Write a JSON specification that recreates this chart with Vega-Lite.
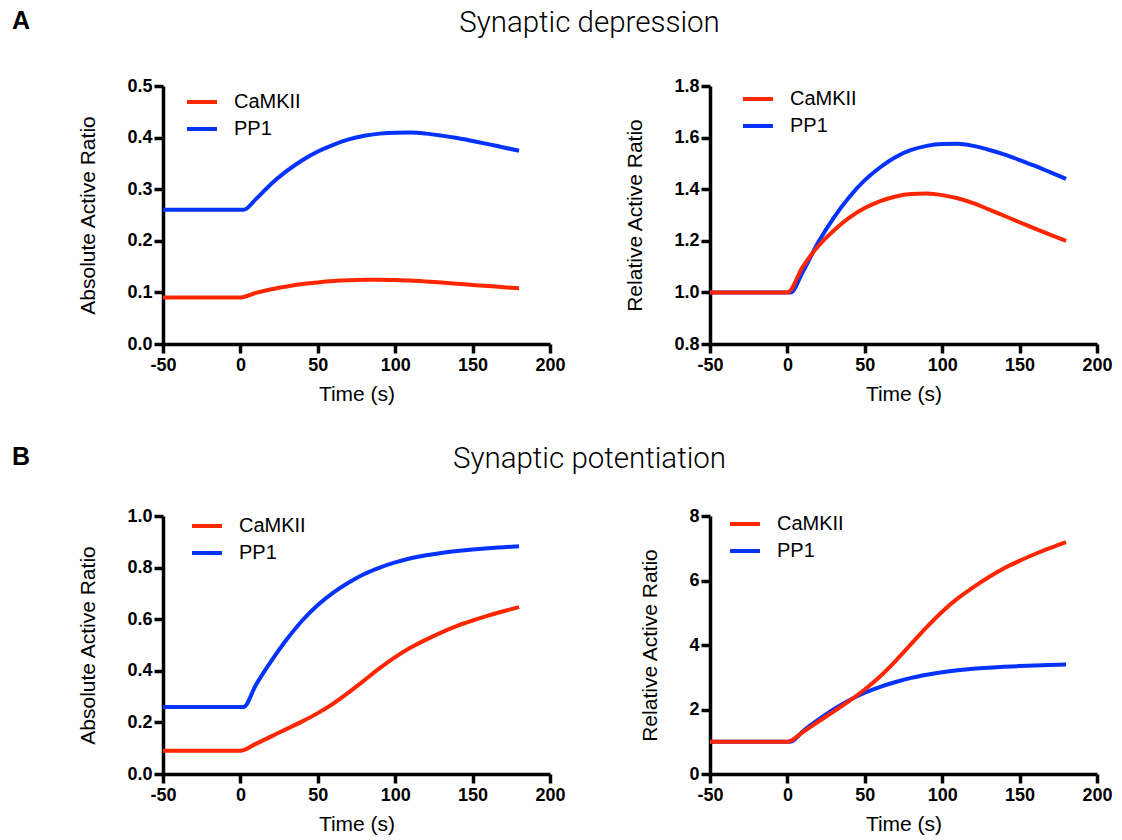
{
  "$schema": "https://vega.github.io/schema/vega-lite/v6.json",
  "background": "white",
  "autosize": {"type": "pad"},
  "padding": {"left": 12, "top": 7, "right": 6, "bottom": 4},
  "datasets": {
    "depression": [
      {"t": -50, "kinase": "PP1", "abs": 0.26, "rel": 1.0},
      {"t": 0, "kinase": "PP1", "abs": 0.26, "rel": 1.0},
      {"t": 2, "kinase": "PP1", "abs": 0.26, "rel": 1.0},
      {"t": 10, "kinase": "PP1", "abs": 0.2808, "rel": 1.08},
      {"t": 20, "kinase": "PP1", "abs": 0.3107, "rel": 1.195},
      {"t": 30, "kinase": "PP1", "abs": 0.3354, "rel": 1.29},
      {"t": 40, "kinase": "PP1", "abs": 0.3562, "rel": 1.37},
      {"t": 50, "kinase": "PP1", "abs": 0.3731, "rel": 1.435},
      {"t": 60, "kinase": "PP1", "abs": 0.3861, "rel": 1.485},
      {"t": 70, "kinase": "PP1", "abs": 0.3965, "rel": 1.525},
      {"t": 80, "kinase": "PP1", "abs": 0.4035, "rel": 1.552},
      {"t": 90, "kinase": "PP1", "abs": 0.4077, "rel": 1.568},
      {"t": 100, "kinase": "PP1", "abs": 0.4095, "rel": 1.575},
      {"t": 110, "kinase": "PP1", "abs": 0.4098, "rel": 1.576},
      {"t": 120, "kinase": "PP1", "abs": 0.4077, "rel": 1.568},
      {"t": 130, "kinase": "PP1", "abs": 0.4038, "rel": 1.553},
      {"t": 140, "kinase": "PP1", "abs": 0.3991, "rel": 1.535},
      {"t": 150, "kinase": "PP1", "abs": 0.3934, "rel": 1.513},
      {"t": 160, "kinase": "PP1", "abs": 0.3874, "rel": 1.49},
      {"t": 170, "kinase": "PP1", "abs": 0.3809, "rel": 1.465},
      {"t": 180, "kinase": "PP1", "abs": 0.3744, "rel": 1.44},
      {"t": -50, "kinase": "CaMKII", "abs": 0.09, "rel": 1.0},
      {"t": 0, "kinase": "CaMKII", "abs": 0.09, "rel": 1.0},
      {"t": 10, "kinase": "CaMKII", "abs": 0.099, "rel": 1.1},
      {"t": 20, "kinase": "CaMKII", "abs": 0.1062, "rel": 1.18},
      {"t": 30, "kinase": "CaMKII", "abs": 0.1116, "rel": 1.24},
      {"t": 40, "kinase": "CaMKII", "abs": 0.1161, "rel": 1.29},
      {"t": 50, "kinase": "CaMKII", "abs": 0.1194, "rel": 1.327},
      {"t": 60, "kinase": "CaMKII", "abs": 0.1219, "rel": 1.354},
      {"t": 70, "kinase": "CaMKII", "abs": 0.1235, "rel": 1.372},
      {"t": 80, "kinase": "CaMKII", "abs": 0.1243, "rel": 1.381},
      {"t": 90, "kinase": "CaMKII", "abs": 0.1245, "rel": 1.383},
      {"t": 100, "kinase": "CaMKII", "abs": 0.1239, "rel": 1.377},
      {"t": 110, "kinase": "CaMKII", "abs": 0.1229, "rel": 1.365},
      {"t": 120, "kinase": "CaMKII", "abs": 0.1211, "rel": 1.346},
      {"t": 130, "kinase": "CaMKII", "abs": 0.119, "rel": 1.322},
      {"t": 140, "kinase": "CaMKII", "abs": 0.1167, "rel": 1.297},
      {"t": 150, "kinase": "CaMKII", "abs": 0.1145, "rel": 1.272},
      {"t": 160, "kinase": "CaMKII", "abs": 0.1122, "rel": 1.247},
      {"t": 170, "kinase": "CaMKII", "abs": 0.1101, "rel": 1.223},
      {"t": 180, "kinase": "CaMKII", "abs": 0.108, "rel": 1.2}
    ],
    "potentiation": [
      {"t": -50, "kinase": "PP1", "abs": 0.26, "rel": 1.0},
      {"t": 0, "kinase": "PP1", "abs": 0.26, "rel": 1.0},
      {"t": 2, "kinase": "PP1", "abs": 0.26, "rel": 1.0},
      {"t": 10, "kinase": "PP1", "abs": 0.345, "rel": 1.327},
      {"t": 20, "kinase": "PP1", "abs": 0.438, "rel": 1.685},
      {"t": 30, "kinase": "PP1", "abs": 0.522, "rel": 2.008},
      {"t": 40, "kinase": "PP1", "abs": 0.595, "rel": 2.288},
      {"t": 50, "kinase": "PP1", "abs": 0.655, "rel": 2.519},
      {"t": 60, "kinase": "PP1", "abs": 0.703, "rel": 2.704},
      {"t": 70, "kinase": "PP1", "abs": 0.742, "rel": 2.854},
      {"t": 80, "kinase": "PP1", "abs": 0.775, "rel": 2.981},
      {"t": 90, "kinase": "PP1", "abs": 0.8, "rel": 3.077},
      {"t": 100, "kinase": "PP1", "abs": 0.82, "rel": 3.154},
      {"t": 110, "kinase": "PP1", "abs": 0.836, "rel": 3.215},
      {"t": 120, "kinase": "PP1", "abs": 0.848, "rel": 3.262},
      {"t": 130, "kinase": "PP1", "abs": 0.857, "rel": 3.296},
      {"t": 140, "kinase": "PP1", "abs": 0.864, "rel": 3.323},
      {"t": 150, "kinase": "PP1", "abs": 0.87, "rel": 3.346},
      {"t": 160, "kinase": "PP1", "abs": 0.875, "rel": 3.365},
      {"t": 170, "kinase": "PP1", "abs": 0.879, "rel": 3.381},
      {"t": 180, "kinase": "PP1", "abs": 0.883, "rel": 3.396},
      {"t": -50, "kinase": "CaMKII", "abs": 0.09, "rel": 1.0},
      {"t": 0, "kinase": "CaMKII", "abs": 0.09, "rel": 1.0},
      {"t": 10, "kinase": "CaMKII", "abs": 0.117, "rel": 1.3},
      {"t": 20, "kinase": "CaMKII", "abs": 0.146, "rel": 1.622},
      {"t": 30, "kinase": "CaMKII", "abs": 0.175, "rel": 1.944},
      {"t": 40, "kinase": "CaMKII", "abs": 0.204, "rel": 2.267},
      {"t": 50, "kinase": "CaMKII", "abs": 0.236, "rel": 2.622},
      {"t": 60, "kinase": "CaMKII", "abs": 0.273, "rel": 3.033},
      {"t": 70, "kinase": "CaMKII", "abs": 0.316, "rel": 3.511},
      {"t": 80, "kinase": "CaMKII", "abs": 0.363, "rel": 4.033},
      {"t": 90, "kinase": "CaMKII", "abs": 0.41, "rel": 4.556},
      {"t": 100, "kinase": "CaMKII", "abs": 0.453, "rel": 5.033},
      {"t": 110, "kinase": "CaMKII", "abs": 0.49, "rel": 5.444},
      {"t": 120, "kinase": "CaMKII", "abs": 0.521, "rel": 5.789},
      {"t": 130, "kinase": "CaMKII", "abs": 0.549, "rel": 6.1},
      {"t": 140, "kinase": "CaMKII", "abs": 0.574, "rel": 6.378},
      {"t": 150, "kinase": "CaMKII", "abs": 0.595, "rel": 6.611},
      {"t": 160, "kinase": "CaMKII", "abs": 0.614, "rel": 6.822},
      {"t": 170, "kinase": "CaMKII", "abs": 0.631, "rel": 7.011},
      {"t": 180, "kinase": "CaMKII", "abs": 0.647, "rel": 7.189}
    ]
  },
  "config": {
    "font": "Liberation Sans",
    "view": {"stroke": null},
    "line": {"strokeWidth": 4, "interpolate": "monotone"},
    "axis": {
      "grid": false,
      "domainColor": "#000000",
      "domainWidth": 3.5,
      "tickColor": "#000000",
      "tickWidth": 3.5,
      "tickSize": 9,
      "labelFont": "Liberation Sans",
      "labelFontSize": 18,
      "labelFontWeight": "bold",
      "labelColor": "#000000",
      "labelFlush": false,
      "labelOverlap": false,
      "labelExpr": "replace(datum.label, '\u2212', '-')",
      "titleFont": "Liberation Sans",
      "titleFontSize": 21,
      "titleFontWeight": "normal",
      "titleColor": "#000000"
    },
    "axisX": {"labelPadding": 3, "titlePadding": 9, "domainWidth": 3.5, "tickWidth": 3.5},
    "axisY": {"labelPadding": 2, "titlePadding": 28, "domainWidth": 3.5, "tickWidth": 3.5},
    "legend": {
      "title": null,
      "orient": "none",
      "symbolType": "M-1.5,0H1.5",
      "symbolStrokeWidth": 4,
      "symbolSize": 400,
      "labelFont": "Liberation Sans",
      "labelFontSize": 20,
      "labelColor": "#000000",
      "labelOffset": 20,
      "rowPadding": 5,
      "padding": 0
    },
    "title": {"color": "#000000", "baseline": "alphabetic"}
  },
  "resolve": {"legend": {"color": "independent"}},
  "columns": 2,
  "bounds": "flush",
  "spacing": {"row": 172, "column": 160},
  "concat": [
    {
      "width": 387,
      "height": 258,
      "title": {"text": "A", "anchor": "start", "frame": "group", "dx": -151, "dy": -4, "offset": 39, "font": "Liberation Sans", "fontSize": 25, "fontWeight": "bold"},
      "data": {"name": "depression"},
      "mark": {"type": "line"},
      "encoding": {
        "x": {"field": "t", "type": "quantitative", "scale": {"domain": [-50, 200], "nice": false}, "axis": {"values": [-50, 0, 50, 100, 150, 200], "title": "Time (s)"}},
        "y": {"field": "abs", "type": "quantitative", "scale": {"domain": [0, 0.5], "nice": false}, "axis": {"values": [0, 0.1, 0.2, 0.3, 0.4, 0.5], "format": ".1f", "title": "Absolute Active Ratio"}},
        "color": {"field": "kinase", "type": "nominal", "scale": {"domain": ["CaMKII", "PP1"], "range": ["#FF2600", "#0433FF"]}, "legend": {"legendX": 27, "legendY": 4}}
      }
    },
    {
      "width": 387,
      "height": 258,
      "title": {"text": "Synaptic depression", "anchor": "middle", "frame": "group", "dx": -314, "offset": 39, "font": "Roboto", "fontSize": 29.5, "fontWeight": 300},
      "data": {"name": "depression"},
      "mark": {"type": "line"},
      "encoding": {
        "x": {"field": "t", "type": "quantitative", "scale": {"domain": [-50, 200], "nice": false}, "axis": {"values": [-50, 0, 50, 100, 150, 200], "title": "Time (s)"}},
        "y": {"field": "rel", "type": "quantitative", "scale": {"domain": [0.8, 1.8], "nice": false, "zero": false}, "axis": {"values": [0.8, 1.0, 1.2, 1.4, 1.6, 1.8], "format": ".1f", "title": "Relative Active Ratio"}},
        "color": {"field": "kinase", "type": "nominal", "scale": {"domain": ["CaMKII", "PP1"], "range": ["#FF2600", "#0433FF"]}, "legend": {"legendX": 36, "legendY": 1}}
      }
    },
    {
      "width": 387,
      "height": 258,
      "title": {"text": "B", "anchor": "start", "frame": "group", "dx": -151, "dy": -4, "offset": 33, "font": "Liberation Sans", "fontSize": 25, "fontWeight": "bold"},
      "data": {"name": "potentiation"},
      "mark": {"type": "line"},
      "encoding": {
        "x": {"field": "t", "type": "quantitative", "scale": {"domain": [-50, 200], "nice": false}, "axis": {"values": [-50, 0, 50, 100, 150, 200], "title": "Time (s)"}},
        "y": {"field": "abs", "type": "quantitative", "scale": {"domain": [0, 1], "nice": false}, "axis": {"values": [0, 0.2, 0.4, 0.6, 0.8, 1.0], "format": ".1f", "title": "Absolute Active Ratio"}},
        "color": {"field": "kinase", "type": "nominal", "scale": {"domain": ["CaMKII", "PP1"], "range": ["#FF2600", "#0433FF"]}, "legend": {"legendX": 32, "legendY": -2}}
      }
    },
    {
      "width": 387,
      "height": 258,
      "title": {"text": "Synaptic potentiation", "anchor": "middle", "frame": "group", "dx": -314, "offset": 33, "font": "Roboto", "fontSize": 29.5, "fontWeight": 300},
      "data": {"name": "potentiation"},
      "mark": {"type": "line"},
      "encoding": {
        "x": {"field": "t", "type": "quantitative", "scale": {"domain": [-50, 200], "nice": false}, "axis": {"values": [-50, 0, 50, 100, 150, 200], "title": "Time (s)"}},
        "y": {"field": "rel", "type": "quantitative", "scale": {"domain": [0, 8], "nice": false}, "axis": {"values": [0, 2, 4, 6, 8], "format": "d", "title": "Relative Active Ratio"}},
        "color": {"field": "kinase", "type": "nominal", "scale": {"domain": ["CaMKII", "PP1"], "range": ["#FF2600", "#0433FF"]}, "legend": {"legendX": 23, "legendY": -4}}
      }
    }
  ]
}
